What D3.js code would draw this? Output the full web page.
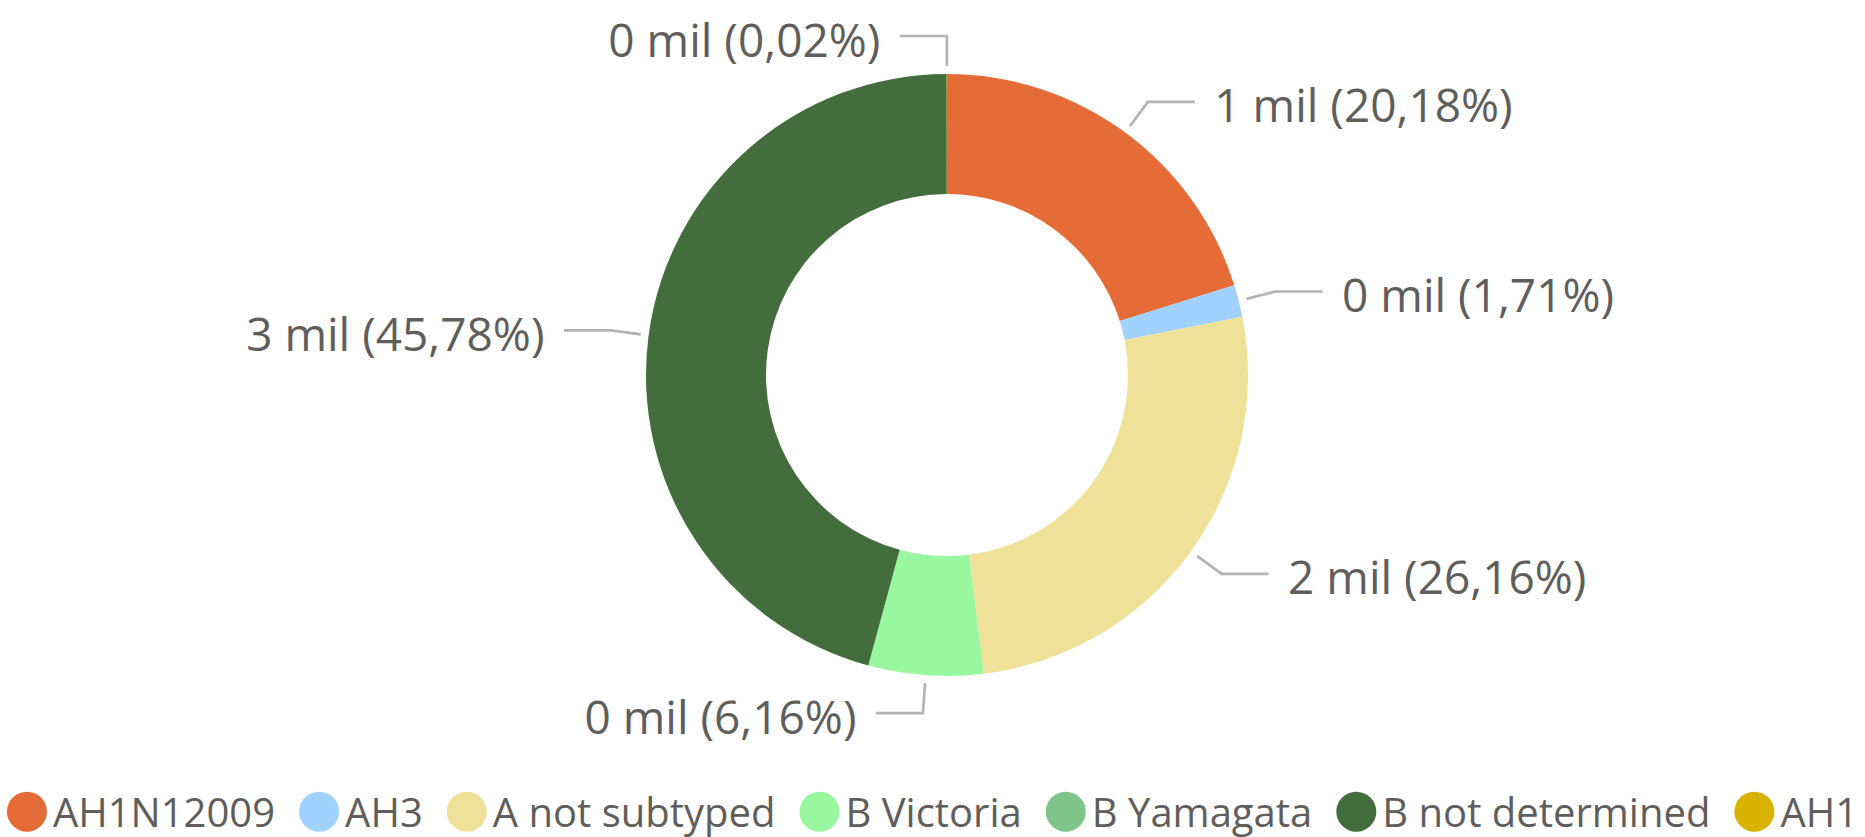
<!DOCTYPE html>
<html>
<head>
<meta charset="utf-8">
<script src="https://cdn.jsdelivr.net/npm/d3@7"></script>
<style>
  html, body { margin: 0; padding: 0; background: #ffffff; }
  svg { display: block; }
  text { font-family: "Segoe UI", "Open Sans", "Noto Sans", sans-serif; fill: #605E5C; }
</style>
</head>
<body>
<svg id="chart" width="1865" height="837"></svg>
<script>
// ---- data ----
const categories = ["AH1N12009", "AH3", "A not subtyped", "B Victoria", "B Yamagata", "B not determined", "AH1"];
const counts     = [1321, 112, 1712, 403, 0, 2996, 1];
const colors     = ["#E66C37", "#A0D1FF", "#F0E199", "#99F79F", "#7FC48A", "#436D3C", "#D9B300"];

// ---- layout ----
const W = 1865, H = 837;
const cx = 947, cy = 375;
const outerR = 301, innerR = 181;
const labelFont = 46, legendFont = 40;

const svg = d3.select("#chart");
const total = d3.sum(counts);
const data = categories.map((c, i) => ({ cat: c, value: counts[i], color: colors[i] }));

const pie = d3.pie().value(d => d.value).sort(null);
const arcs = pie(data);
const arc = d3.arc().innerRadius(innerR).outerRadius(outerR);

const g = svg.append("g").attr("transform", `translate(${cx},${cy})`);
g.selectAll("path.slice")
  .data(arcs.filter(a => a.data.value > 0))
  .join("path")
  .attr("class", "slice")
  .attr("d", arc)
  .attr("fill", d => d.data.color);

// ---- labels with leader lines ----
const pctFmt = v => d3.format(".2f")(v).replace(".", ",");
const startArc = d3.arc().innerRadius(outerR + 8).outerRadius(outerR + 8);
const elbowArc = d3.arc().innerRadius(outerR + 38).outerRadius(outerR + 38);

arcs.filter(a => a.data.value > 0).forEach(a => {
  const mid = (a.startAngle + a.endAngle) / 2;
  const p0 = startArc.centroid({ startAngle: mid, endAngle: mid });
  const p1 = elbowArc.centroid({ startAngle: mid, endAngle: mid });
  const dir = Math.sin(mid) >= 0 ? 1 : -1;
  const p2 = [p1[0] + dir * 47, p1[1]];
  g.append("polyline")
    .attr("points", [p0, p1, p2].map(p => p.join(",")).join(" "))
    .attr("fill", "none")
    .attr("stroke", "#B3B3B3")
    .attr("stroke-width", 2.7);
  const label = `${Math.round(a.data.value / 1000)} mil (${pctFmt(a.data.value / total * 100)}%)`;
  g.append("text")
    .attr("x", p2[0] + dir * 19.5)
    .attr("y", p2[1] + 20.5)
    .attr("text-anchor", dir > 0 ? "start" : "end")
    .style("font-size", labelFont + "px")
    .text(label);
});

// ---- legend ----
const legR = 20, legGapText = 6, legGapItem = 24, legCy = 811.7, legBase = 826.5;
const leg = svg.append("g");
const items = leg.selectAll("g.item").data(data).join("g").attr("class", "item");
items.append("circle").attr("r", legR).attr("cx", legR).attr("cy", legCy).attr("fill", d => d.color);
items.append("text")
  .attr("x", 2 * legR + legGapText)
  .attr("y", legBase)
  .style("font-size", legendFont + "px")
  .text(d => d.cat);
let x = 0;
const widths = [];
items.each(function() {
  const w = 2 * legR + legGapText + d3.select(this).select("text").node().getComputedTextLength();
  widths.push(w);
});
const totalW = d3.sum(widths) + legGapItem * (widths.length - 1);
x = (W - totalW) / 2;
items.each(function(d, i) {
  d3.select(this).attr("transform", `translate(${x},0)`);
  x += widths[i] + legGapItem;
});
</script>
</body>
</html>
